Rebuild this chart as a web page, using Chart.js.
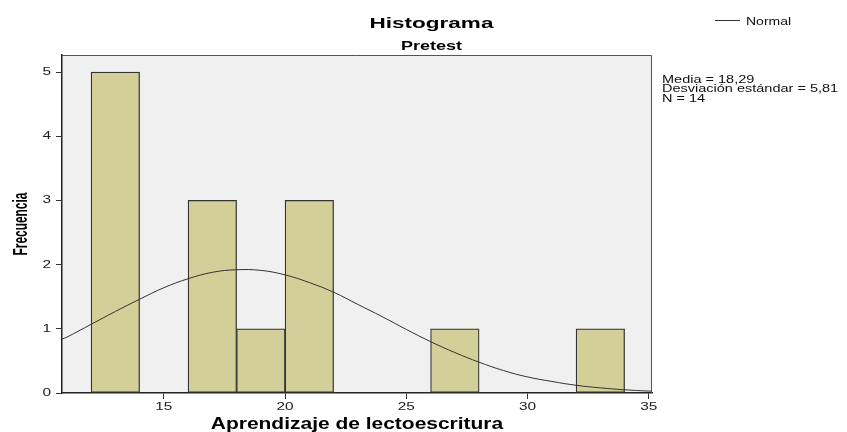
<!DOCTYPE html>
<html>
<head>
<meta charset="utf-8">
<script src="https://cdn.jsdelivr.net/npm/chart.js@4.4.1/dist/chart.umd.min.js"></script>
<style>
  html, body { margin: 0; padding: 0; background: #fff; }
  canvas { display: block; }
</style>
</head>
<body>
<canvas id="histChart" width="847" height="432"></canvas>
<script>
// histogram bins (start of each bin, width 2) and counts
const binStart = [12, 16, 18, 20, 26, 32];
const binWidth = 2;
const frecuencia = [5, 3, 1, 3, 1, 1];

// normal curve, values
const normalX = [10.8, 11, 12, 13, 14, 15, 16, 17, 18, 19, 20, 21, 22, 23, 24, 25, 26, 27, 28, 29, 30, 31, 32, 33, 34, 35, 35.2];
const normalY = [0.84, 0.87, 1.07, 1.27, 1.46, 1.64, 1.78, 1.88, 1.92, 1.91, 1.84, 1.72, 1.57, 1.38, 1.19, 0.99, 0.80, 0.63, 0.48, 0.35, 0.25, 0.18, 0.12, 0.08, 0.05, 0.03, 0.03];

const xTicks = [15, 20, 25, 30, 35];
const yTicks = [0, 1, 2, 3, 4, 5];
const statsLines = ['Media = 18,29', 'Desviación estándar = 5,81', 'N = 14'];

const FONT = '"Liberation Sans", Arial, sans-serif';

// SPSS output looks horizontally stretched, so text is drawn with a scale
function stretchText(ctx, text, x, y, o) {
  ctx.save();
  ctx.translate(x, y);
  if (o.rotate) ctx.rotate(o.rotate);
  ctx.scale(o.sx || 1, o.sy || 1);
  ctx.font = o.font;
  ctx.fillStyle = o.color || '#000';
  ctx.textAlign = o.align || 'left';
  ctx.textBaseline = o.baseline || 'alphabetic';
  ctx.fillText(text, 0, 0);
  ctx.restore();
}

const decor = {
  id: 'decor',
  beforeDraw(chart) {
    const { ctx, chartArea: a } = chart;
    ctx.save();
    ctx.fillStyle = '#fff';
    ctx.fillRect(0, 0, chart.width, chart.height);
    ctx.fillStyle = '#f0f0f0';
    ctx.fillRect(a.left, a.top, a.right - a.left, a.bottom - a.top);
    ctx.restore();
  },
  afterDraw(chart) {
    const { ctx, chartArea: a } = chart;
    const xs = chart.scales.x, ys = chart.scales.y;

    // top and right frame of the plot
    ctx.save();
    ctx.strokeStyle = '#555';
    ctx.lineWidth = 1;
    ctx.beginPath();
    ctx.moveTo(a.left, a.top + 0.5);
    ctx.lineTo(a.right - 0.5, a.top + 0.5);
    ctx.lineTo(a.right - 0.5, a.bottom);
    ctx.stroke();
    ctx.restore();

    // tick labels
    xTicks.forEach(v => {
      stretchText(ctx, String(v), xs.getPixelForValue(v), 401,
        { font: '11px ' + FONT, sx: 1.4, align: 'center', baseline: 'top', color: '#222' });
    });
    yTicks.forEach(v => {
      stretchText(ctx, String(v), 51, ys.getPixelForValue(v),
        { font: '11px ' + FONT, sx: 1.4, align: 'right', baseline: 'middle', color: '#222' });
    });

    // titles
    stretchText(ctx, 'Histograma', 431.5, 28, { font: 'bold 15px ' + FONT, sx: 1.5, align: 'center' });
    stretchText(ctx, 'Pretest', 431.5, 50, { font: 'bold 12px ' + FONT, sx: 1.5, align: 'center' });
    stretchText(ctx, 'Aprendizaje de lectoescritura', (a.left + a.right) / 2, 429,
      { font: 'bold 16px ' + FONT, sx: 1.31, align: 'center' });
    stretchText(ctx, 'Frecuencia', 27, (a.top + a.bottom) / 2,
      { font: 'bold 14px ' + FONT, rotate: -Math.PI / 2, sx: 0.85, sy: 1.5, align: 'center' });

    // legend
    ctx.save();
    ctx.strokeStyle = '#333';
    ctx.lineWidth = 1;
    ctx.beginPath();
    ctx.moveTo(715, 20.5);
    ctx.lineTo(740, 20.5);
    ctx.stroke();
    ctx.restore();
    stretchText(ctx, 'Normal', 746, 24.5, { font: '10px ' + FONT, sx: 1.4, color: '#111' });

    // stats box
    statsLines.forEach((t, i) => {
      stretchText(ctx, t, 662, 82.5 + i * 9.5, { font: '10px ' + FONT, sx: 1.45, color: '#111' });
    });
  }
};

new Chart(document.getElementById('histChart'), {
  type: 'bar',
  data: {
    datasets: [
      {
        type: 'line',
        label: 'Normal',
        data: normalX.map((x, i) => ({ x: x, y: normalY[i] })),
        borderColor: '#333',
        borderWidth: 1,
        pointRadius: 0,
        tension: 0.4,
        fill: false,
        order: 0
      },
      {
        type: 'bar',
        label: 'Frecuencia',
        data: binStart.map((s, i) => ({ x: s + binWidth / 2, y: frecuencia[i] })),
        backgroundColor: '#d3cf98',
        borderColor: '#333',
        borderWidth: 1.25,
        borderSkipped: false,
        barPercentage: 1,
        categoryPercentage: 1,
        order: 1
      }
    ]
  },
  options: {
    responsive: false,
    animation: false,
    layout: { padding: { top: 55, right: 195, left: 0, bottom: 0 } },
    plugins: {
      legend: { display: false },
      title: { display: false },
      tooltip: { enabled: false }
    },
    scales: {
      x: {
        type: 'linear',
        min: 10.8,
        max: 35.13,
        offset: false,
        afterBuildTicks: s => { s.ticks = xTicks.map(v => ({ value: v })); },
        afterFit: s => { s.height = 39; },
        grid: { offset: false, drawOnChartArea: false, drawTicks: true, tickLength: 6, tickColor: '#333' },
        border: { display: true, color: '#222', width: 1.5 },
        ticks: { display: false }
      },
      y: {
        type: 'linear',
        min: 0,
        max: 5.265,
        afterBuildTicks: s => { s.ticks = yTicks.map(v => ({ value: v })); },
        afterFit: s => { s.width = 62; },
        grid: { drawOnChartArea: false, drawTicks: true, tickLength: 6, tickColor: '#333' },
        border: { display: true, color: '#222', width: 1.5 },
        ticks: { display: false }
      }
    }
  },
  plugins: [decor]
});
</script>
</body>
</html>
